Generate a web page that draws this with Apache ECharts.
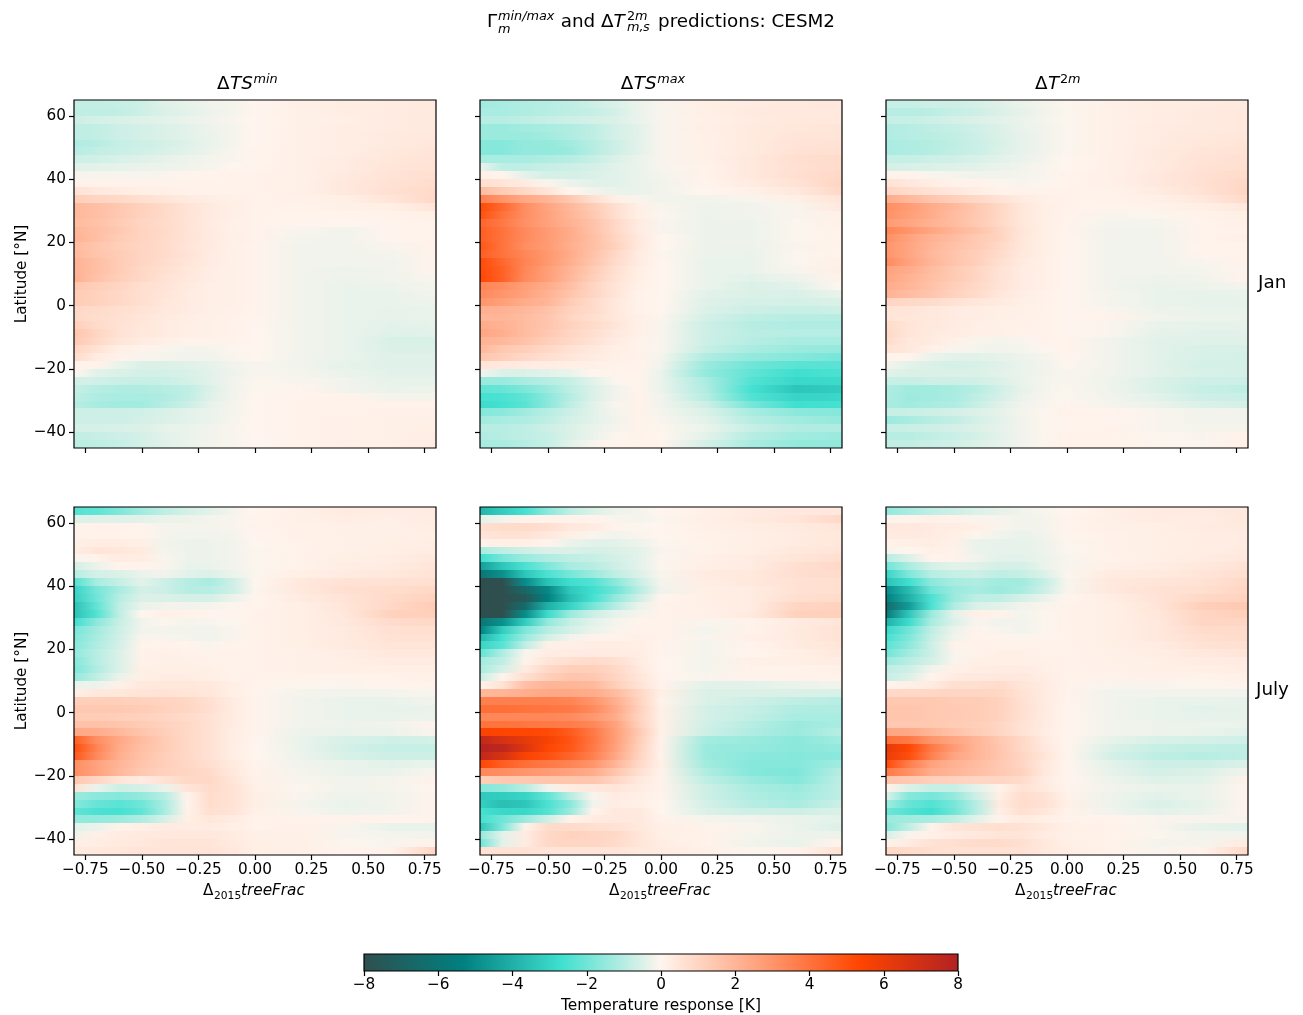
<!DOCTYPE html>
<html><head><meta charset="utf-8">
<style>html,body{margin:0;padding:0;background:#fff}#c{width:1303px;height:1015px}</style>
<script src="https://cdn.jsdelivr.net/npm/echarts@6/dist/echarts.min.js"></script>
</head><body><div id="c"></div>
<script>
const xNodes=[-0.8,-0.7,-0.6,-0.5,-0.4,-0.3,-0.2,-0.1,0,0.2,0.4,0.6,0.8];
const latitudes=[63.75,61.25,58.75,56.25,53.75,51.25,48.75,46.25,43.75,41.25,38.75,36.25,33.75,31.25,28.75,26.25,23.75,21.25,18.75,16.25,13.75,11.25,8.75,6.25,3.75,1.25,-1.25,-3.75,-6.25,-8.75,-11.25,-13.75,-16.25,-18.75,-21.25,-23.75,-26.25,-28.75,-31.25,-33.75,-36.25,-38.75,-41.25,-43.75];
const xTicks=[-0.75,-0.5,-0.25,0,0.25,0.5,0.75];
const yTicks=[-40,-20,0,20,40,60];
const cmapColors=['#2f4f4f','#008080','#40e0d0','#fff5ee','#ffa07a','#ff4500','#b22222'];
const janTSmin=[
[-.85,-.85,-.8,-.7,-.45,-.35,-.2,-.15,0,.15,.25,.3,.35],
[-.9,-.9,-.85,-.7,-.5,-.4,-.25,-.15,-.03,.15,.25,.3,.35],
[-.7,-.6,-.55,-.45,-.4,-.3,-.2,-.1,0,.15,.2,.3,.35],
[-.9,-.85,-.7,-.6,-.5,-.4,-.25,-.15,0,.15,.25,.3,.35],
[-.9,-.85,-.7,-.6,-.5,-.4,-.3,-.15,0,.15,.25,.35,.4],
[-1.1,-1,-.8,-.7,-.6,-.45,-.3,-.15,0,.15,.25,.35,.45],
[-1,-.85,-.75,-.65,-.55,-.4,-.25,-.1,.02,.15,.25,.4,.5],
[-.7,-.65,-.55,-.45,-.35,-.25,-.15,-.1,.03,.15,.3,.45,.55],
[-.45,-.4,-.35,-.3,-.25,-.2,-.12,-.03,.05,.15,.3,.5,.6],
[-.1,-.12,-.12,-.12,-.08,.03,.05,.08,.1,.15,.35,.55,.7],
[.1,.1,.08,.08,.08,.08,.08,.08,.08,.15,.4,.6,.75],
[.6,.4,.3,.2,.15,.1,.1,.1,.1,.15,.4,.65,.85],
[1.2,1,.9,.7,.5,.35,.25,.15,.1,.12,.2,.5,.9],
[1.9,1.7,1.4,1.1,.85,.55,.35,.2,.1,.1,.15,.2,.5],
[1.9,1.7,1.4,1.1,.85,.55,.35,.2,.08,.05,.05,.1,.15],
[1.8,1.6,1.3,1,.8,.55,.3,.15,.08,.03,-.03,.05,.1],
[2,1.7,1.4,1.05,.85,.55,.35,.15,.08,-.1,-.2,.03,.1],
[2.1,1.7,1.3,1.05,.8,.55,.35,.2,.08,-.15,-.2,.03,.1],
[1.8,1.5,1.2,1,.8,.5,.35,.15,.05,-.2,-.2,-.1,.1],
[1.9,1.5,1.3,1,.8,.55,.3,.15,.05,-.2,-.2,-.15,.1],
[2.1,1.7,1.3,1,.75,.5,.3,.15,.05,-.2,-.2,-.2,.05],
[2.1,1.7,1.3,.9,.7,.45,.25,.15,.05,-.2,-.25,-.2,.05],
[2.2,1.6,1.2,.9,.6,.4,.25,.15,.05,-.2,-.25,-.2,-.1],
[1.5,1.2,1,.7,.55,.35,.2,.15,.05,-.2,-.3,-.25,-.15],
[1.3,1.1,.9,.7,.5,.3,.2,.15,.05,-.2,-.3,-.3,-.2],
[1.3,1.1,.9,.7,.45,.3,.2,.15,.05,-.2,-.3,-.3,-.25],
[.9,.8,.7,.55,.4,.3,.2,.12,.05,-.2,-.3,-.35,-.3],
[.9,.75,.65,.5,.35,.25,.15,.1,.03,-.2,-.3,-.35,-.3],
[1.2,.8,.6,.45,.3,.2,.15,.1,.03,-.2,-.3,-.4,-.35],
[1.5,1,.6,.4,.3,.2,.15,.1,0,-.2,-.3,-.45,-.4],
[1.4,.9,.5,.3,.2,.1,.1,.1,0,-.2,-.3,-.55,-.55],
[1,.6,.2,.1,-.1,-.15,-.15,-.05,0,-.2,-.3,-.5,-.5],
[.8,.3,.1,-.1,-.15,-.2,-.2,-.1,-.02,-.2,-.3,-.45,-.45],
[.1,.1,-.3,-.5,-.5,-.45,-.35,-.2,-.1,-.2,-.35,-.45,-.45],
[0,-.4,-.5,-.6,-.6,-.55,-.4,-.25,-.1,-.15,-.3,-.4,-.4],
[-.6,-.65,-.75,-.8,-.75,-.6,-.4,-.2,-.05,-.1,-.2,-.35,-.35],
[-.8,-1,-1.1,-1.1,-1,-.9,-.5,-.2,-.05,.05,-.2,-.3,-.25],
[-.9,-1.1,-1.2,-1.2,-1.1,-.9,-.45,-.2,-.02,.05,.1,-.15,-.15],
[-1,-1.2,-1.3,-1.3,-1,-.75,-.35,-.15,0,.08,.1,.08,.1],
[-.7,-.7,-.7,-.65,-.55,-.4,-.3,-.15,-.02,.08,.1,.12,.12],
[-.7,-.7,-.7,-.6,-.5,-.4,-.3,-.12,-.02,.08,.12,.15,.15],
[-.6,-.6,-.55,-.5,-.35,-.3,-.2,-.1,0,.08,.12,.15,.2],
[-.85,-.8,-.7,-.6,-.4,-.3,-.2,-.1,-.02,.08,.12,.15,.25],
[-.95,-.9,-.8,-.6,-.45,-.3,-.2,-.1,-.03,.08,.15,.2,.3]];
const janTSmax=[
[-1.3,-1.2,-1.1,-1,-.9,-.7,-.5,-.3,-.1,.2,.3,.35,.4],
[-1.2,-1.2,-1.1,-1,-.9,-.8,-.6,-.3,-.1,.2,.35,.4,.4],
[-1,-1,-.9,-.8,-.7,-.6,-.5,-.3,-.1,.15,.3,.4,.4],
[-1.4,-1.4,-1.3,-1.2,-1.1,-.9,-.6,-.4,-.1,.2,.35,.45,.5],
[-1.4,-1.4,-1.4,-1.3,-1.1,-.9,-.6,-.4,-.1,.15,.35,.5,.5],
[-1.7,-1.7,-1.5,-1.5,-1.3,-1,-.7,-.4,-.1,.15,.35,.55,.6],
[-1.7,-1.7,-1.5,-1.5,-1.4,-1,-.7,-.4,-.1,.15,.35,.6,.65],
[-1.2,-1.2,-1.2,-1.1,-1,-.8,-.5,-.3,-.1,.15,.4,.7,.8],
[-.3,-.9,-.9,-.8,-.7,-.6,-.4,-.3,-.1,.1,.4,.65,.8],
[.15,.05,-.4,-.6,-.6,-.5,-.4,-.3,-.15,.1,.4,.7,.9],
[.7,.5,.3,-.1,-.3,-.4,-.4,-.3,-.2,.05,.3,.6,1],
[1.8,1.3,.9,.5,0,-.2,-.3,-.3,-.2,0,.15,.4,.9],
[3.6,3,2.4,2,1.4,.7,.2,-.1,-.2,-.2,-.1,.2,.5],
[5.2,4.3,3.2,2.5,1.9,1.3,.7,.2,-.1,-.25,-.2,-.1,.4],
[5,4,3.2,2.6,2,1.4,.7,.2,-.05,-.25,-.2,-.1,.15],
[4.4,3.8,3.1,2.6,2.1,1.6,.9,.3,-.1,-.25,-.25,-.05,.15],
[4.6,4,3.3,2.8,2.3,1.6,.9,.3,-.1,-.25,-.25,-.05,.1],
[4.6,4,3.3,2.8,2.3,1.7,1,.4,0,-.25,-.25,-.05,.1],
[4.8,4,3.2,2.8,2.2,1.7,1.1,.4,0,-.25,-.25,-.1,.1],
[4.6,4,3.4,2.9,2.3,1.6,.9,.3,-.05,-.25,-.3,-.05,.1],
[5.2,4.3,3.5,2.9,2.2,1.5,.8,.3,0,-.3,-.3,-.05,.15],
[5.2,4.5,3.4,2.7,2,1.3,.7,.2,0,-.3,-.3,-.1,.2],
[5.3,4.5,3.3,2.7,1.9,1.2,.6,.2,0,-.3,-.4,-.25,.1],
[3.5,3.2,2.7,2.3,1.7,1,.5,.15,0,-.3,-.5,-.4,0],
[3.3,3,2.6,2.1,1.5,1,.5,.1,0,-.4,-.5,-.55,-.3],
[3,2.7,2.3,2,1.3,.8,.4,.1,0,-.45,-.6,-.6,-.5],
[2.2,2.1,1.9,1.6,1.1,.8,.4,.1,0,-.5,-.7,-.8,-.7],
[2,2,1.8,1.5,1,.7,.4,.15,-.05,-.6,-.9,-1,-1],
[2.3,2.1,1.8,1.5,1.1,.8,.5,.15,-.1,-.7,-1,-1.1,-1.1],
[2.5,2.2,1.8,1.4,1,.7,.4,.15,-.1,-.7,-.95,-1,-1],
[2.1,1.9,1.6,1.2,.9,.6,.3,.1,-.1,-.7,-1,-1.2,-1.2],
[1.9,1.4,1.2,.9,.6,.4,.2,.1,-.1,-.8,-1.2,-1.4,-1.5],
[1.5,1.2,.9,.7,.5,.3,.15,.1,-.15,-1.1,-1.5,-1.7,-1.9],
[.5,.4,.3,.25,.2,.15,.1,.05,-.2,-1.4,-2,-2.3,-2.3],
[-.2,-.5,-.5,-.4,-.3,0,.1,.05,-.3,-1.5,-2.2,-2.7,-2.5],
[-1.4,-1.4,-1.2,-1,-.8,-.4,-.05,.05,-.3,-1.2,-2.4,-2.9,-2.8],
[-2.2,-2.1,-1.8,-1.4,-.9,-.5,-.2,.05,-.3,-1.1,-2.6,-3.4,-3.2],
[-2.6,-2.5,-2.2,-1.6,-1,-.5,-.2,.1,-.2,-1,-2.4,-3,-2.9],
[-2.8,-2.6,-2.3,-1.6,-.9,-.4,-.1,.1,-.2,-.7,-1.9,-2.7,-2.6],
[-1.7,-1.6,-1.3,-1,-.7,-.4,-.15,.1,-.15,-.5,-1.2,-1.6,-1.7],
[-1.3,-1.2,-1.1,-.9,-.6,-.4,-.2,.1,-.1,-.4,-1,-1.3,-1.5],
[-1,-1,-.9,-.7,-.5,-.3,-.15,.1,-.05,-.3,-.8,-1.1,-1.1],
[-1.1,-1,-.9,-.8,-.5,-.3,-.05,.1,0,-.4,-1,-1.3,-1.4],
[-1.2,-1.2,-1,-.8,-.4,-.1,.05,.1,.05,-.6,-1.2,-1.5,-1.5]];
const janT2m=[
[-.8,-.8,-.7,-.7,-.6,-.45,-.3,-.15,-.05,.15,.25,.3,.35],
[-1,-1,-.95,-.8,-.7,-.5,-.35,-.2,-.05,.15,.25,.35,.4],
[-.8,-.8,-.7,-.6,-.5,-.4,-.3,-.15,-.05,.15,.25,.35,.4],
[-1.1,-1,-.9,-.8,-.65,-.5,-.3,-.2,-.05,.15,.3,.35,.4],
[-1.1,-1,-.95,-.85,-.7,-.5,-.35,-.2,-.05,.15,.3,.4,.45],
[-1.2,-1.1,-1.05,-.9,-.75,-.55,-.35,-.2,-.05,.15,.3,.45,.5],
[-1.2,-1.1,-1.05,-.85,-.75,-.5,-.35,-.2,-.05,.15,.35,.5,.6],
[-.8,-.8,-.7,-.65,-.55,-.4,-.3,-.15,0,.15,.35,.55,.65],
[-.6,-.55,-.5,-.45,-.4,-.3,-.2,-.1,0,.15,.35,.6,.7],
[.1,.05,-.1,-.15,-.2,-.2,-.15,-.1,.05,.15,.4,.65,.8],
[.6,.4,.25,.1,.1,-.05,-.1,-.05,.05,.15,.4,.65,.95],
[1,.8,.6,.4,.25,.1,.1,.1,.1,.1,.3,.6,1],
[2.3,1.9,1.5,1.2,.9,.6,.3,.15,.1,.1,.15,.4,.85],
[3.2,2.8,2.3,1.9,1.4,.95,.45,.2,.1,.05,.1,.2,.4],
[3.1,2.7,2.3,1.8,1.4,.95,.45,.2,.08,-.1,-.05,.1,.2],
[2.8,2.5,2.1,1.8,1.35,.9,.45,.2,.05,-.15,-.15,.05,.15],
[3.5,3,2.5,2,1.6,1.05,.5,.2,.05,-.2,-.2,.05,.1],
[3.2,2.6,2.1,1.8,1.35,1.05,.45,.2,.03,-.2,-.2,.05,.15],
[3,2.5,2,1.6,1.35,.9,.45,.2,.03,-.2,-.2,.03,.1],
[3,2.5,1.9,1.55,1.2,.8,.4,.2,.03,-.2,-.2,.05,.1],
[3.3,2.6,2,1.55,1.2,.7,.35,.15,.03,-.2,-.2,-.1,.1],
[2.6,2.3,1.8,1.35,1,.6,.3,.15,.03,-.2,-.2,-.15,.05],
[2.5,2.1,1.7,1.35,1,.6,.3,.15,.03,-.2,-.25,-.2,.05],
[2.3,2,1.6,1.2,.9,.55,.3,.15,.03,-.2,-.3,-.25,-.15],
[2.1,1.8,1.5,1.1,.8,.45,.25,.1,.03,-.15,-.3,-.35,-.3],
[1,.9,.8,.6,.45,.35,.2,.1,.03,-.15,-.3,-.35,-.35],
[.5,.5,.4,.3,.25,.2,.15,.1,.03,-.1,-.25,-.3,-.3],
[.5,.45,.4,.3,.25,.2,.12,.1,.03,.08,-.2,-.25,-.3],
[.8,.5,.4,.3,.2,.15,.12,.1,.03,-.1,-.3,-.35,-.35],
[.9,.5,.35,.25,.2,.15,.1,.1,.03,-.1,-.35,-.4,-.4],
[.8,.4,.3,.15,-.1,-.15,-.1,.08,.05,-.2,-.4,-.45,-.45],
[.6,.4,.15,-.1,-.15,-.2,-.15,-.05,.05,-.2,-.4,-.55,-.55],
[.05,.05,-.3,-.4,-.4,-.35,-.25,-.15,.03,-.2,-.4,-.55,-.6],
[-.15,-.4,-.5,-.6,-.55,-.45,-.3,-.2,-.05,-.2,-.4,-.6,-.6],
[-.4,-.5,-.5,-.5,-.5,-.4,-.3,-.2,-.1,-.2,-.4,-.55,-.6],
[-.8,-.8,-.7,-.7,-.65,-.5,-.3,-.15,-.1,-.25,-.5,-.7,-.7],
[-1.1,-1.3,-1.3,-1.2,-1,-.65,-.35,-.15,-.05,-.25,-.5,-.8,-.9],
[-1.1,-1.35,-1.3,-1.2,-.9,-.6,-.3,-.1,-.05,-.2,-.4,-.7,-.75],
[-1.2,-1.3,-1.2,-1.1,-.8,-.45,-.2,-.1,.05,-.15,-.3,-.5,-.6],
[-.8,-.75,-.7,-.6,-.5,-.35,-.15,-.05,.1,.05,-.1,-.2,-.2],
[-1.4,-1.2,-1,-.85,-.6,-.4,-.2,-.05,.05,.02,-.1,-.2,-.2],
[-.8,-.75,-.7,-.6,-.5,-.35,-.2,-.05,.05,.08,-.1,-.15,-.15],
[-1,-1,-.85,-.75,-.6,-.4,-.2,-.05,.08,.1,-.05,-.1,.1],
[-.85,-.85,-.75,-.65,-.5,-.35,-.2,-.05,.1,.1,-.05,-.05,.15]];
const julTSmin=[
[-2.4,-2.2,-1.8,-1.3,-.9,-.6,-.4,-.15,0,.15,.3,.25,.3],
[-.5,-.45,-.45,-.4,-.3,-.25,-.15,-.1,.03,.15,.25,.2,.3],
[.1,.1,.1,.05,-.15,-.15,-.15,-.1,.05,.12,.15,.15,.25],
[.1,.1,.1,.05,-.15,-.2,-.2,-.15,.03,.12,.15,.15,.2],
[.2,.25,.25,.2,-.2,-.25,-.25,-.2,-.02,.1,.15,.2,.25],
[.25,.5,.45,.35,-.15,-.25,-.25,-.2,-.05,.1,.15,.2,.3],
[-.1,.1,.3,.25,-.1,-.25,-.25,-.2,-.05,.1,.2,.25,.4],
[-.6,-.3,.05,.1,-.1,-.3,-.3,-.2,-.05,.1,.25,.3,.5],
[-1,-.6,-.5,-.3,-.2,-.4,-.5,-.3,-.05,.2,.3,.4,.55],
[-2.4,-1.2,-.8,-.4,-.7,-1,-1.2,-.7,-.02,.4,.6,.6,.7],
[-3,-1.9,-1.2,-.6,-.7,-1,-1,-.7,-.05,.4,.7,.75,.9],
[-3.1,-2,-1,-.5,-.5,-.6,-.6,-.3,.02,.3,.55,.85,1.1],
[-3.5,-2.2,-.9,-.3,-.2,-.2,-.15,-.05,.05,.2,.5,.9,1.3],
[-3.5,-2.4,-.9,0,.15,.1,.03,.03,.1,.2,.45,1.1,1.2],
[-2.7,-1.6,-.8,-.2,-.05,-.15,-.1,-.05,.1,.2,.4,.8,.9],
[-1.9,-1.3,-.7,-.2,-.15,-.2,-.2,-.1,.1,.2,.35,.65,.7],
[-1.8,-1.2,-.65,-.1,-.1,-.15,-.2,-.1,.1,.2,.35,.6,.6],
[-1.7,-1.1,-.6,.05,.1,.05,-.1,.05,.1,.2,.35,.5,.5],
[-1.5,-1,-.5,.08,.15,.1,.1,.1,.1,.15,.25,.4,.4],
[-1.7,-1,-.5,.1,.15,.15,.1,.1,.08,.15,.2,.3,.3],
[-1.8,-1.1,-.5,.15,.2,.2,.15,.1,.08,.15,.2,.2,.2],
[-1.5,-.9,-.3,.2,.25,.25,.2,.1,.08,.1,.1,.1,.15],
[-.3,-.25,.15,.4,.45,.45,.4,.2,.05,-.05,-.08,.02,.1],
[.15,.4,.45,.5,.55,.5,.45,.2,.05,-.15,-.2,-.15,-.1],
[1.2,1.2,1.2,1.1,1.05,.95,.65,.3,.05,-.2,-.3,-.3,-.2],
[1.4,1.4,1.4,1.3,1.1,1,.7,.3,.05,-.2,-.3,-.35,-.3],
[1.3,1.3,1.2,1.1,1,.8,.6,.3,.05,-.2,-.3,-.3,-.25],
[1.6,1.6,1.5,1.3,1.1,.9,.6,.3,.05,-.2,-.25,-.2,.05],
[2.4,2.3,1.9,1.5,1.2,.9,.6,.25,.05,-.25,-.3,-.25,-.1],
[4.6,3.2,2.4,1.8,1.3,.9,.6,.25,.02,-.3,-.55,-.65,-.6],
[5.1,3.5,2.3,1.7,1.3,.9,.6,.25,0,-.3,-.6,-.8,-.8],
[4.8,3.3,2.2,1.6,1.2,.9,.6,.25,0,-.25,-.55,-.7,-.7],
[3.2,2.6,2,1.5,1.2,.95,.7,.35,.05,-.2,-.3,-.4,-.3],
[3.2,2.6,1.9,1.4,1.1,1,.8,.4,.1,-.15,-.3,-.3,-.1],
[1.4,1,.5,.3,.6,.9,.9,.5,.12,-.1,-.2,-.15,.1],
[.6,-.3,-.7,-.6,-.3,.5,.8,.6,.15,-.05,-.2,-.15,.03],
[-1.4,-1.6,-1.7,-1.5,-1,.1,.75,.6,.2,-.1,-.25,-.2,.05],
[-1.7,-2.1,-2.3,-2,-1.2,.05,.75,.6,.2,-.15,-.3,-.2,.05],
[-2.2,-2.5,-2.6,-2.2,-1.2,.1,.7,.55,.15,-.1,-.25,-.2,.05],
[-1.5,-1.5,-1.4,-1.1,-.6,.2,.45,.3,.08,.08,.1,.05,.1],
[-.4,-.3,.1,.2,.3,.3,.3,.2,.1,.12,-.1,-.3,-.3],
[-.25,.15,.3,.35,.4,.4,.4,.3,.15,.15,-.1,-.15,-.2],
[.2,.25,.35,.4,.5,.5,.5,.35,.2,.15,-.05,-.1,.1],
[.3,.4,.45,.5,.5,.5,.55,.4,.2,.15,.05,.1,1]];
const julTSmax=[
[-3.9,-3.2,-2.6,-1.6,-.9,-.5,-.25,-.15,0,.15,.3,.4,.4],
[-.4,-.2,.1,.1,.1,.05,-.1,-.15,-.05,.2,.35,.5,.9],
[.7,.8,.8,.7,.4,.3,.05,-.05,0,.15,.25,.35,.5],
[.5,.6,.6,.4,.2,-.1,-.2,-.1,0,.12,.2,.3,.4],
[.1,.2,.2,.05,-.3,-.4,-.4,-.25,-.05,.1,.2,.3,.45],
[-1.2,-.9,-.7,-.5,-.5,-.6,-.5,-.4,-.1,.1,.2,.4,.5],
[-2.7,-1.9,-1.4,-1.1,-.9,-.8,-.6,-.4,-.05,.15,.3,.5,.7],
[-4.5,-3.4,-2.5,-1.8,-1.2,-1,-.7,-.4,-.05,.2,.3,.7,.9],
[-6,-4.9,-3.4,-2.5,-1.9,-1.4,-.9,-.5,-.1,.3,.4,.7,.8],
[-8,-8,-5,-3.5,-2.7,-2.4,-1.6,-.8,-.15,.25,.4,.6,.7],
[-8,-8,-6.7,-5.1,-3.3,-2.7,-2,-1,-.2,.2,.3,.6,.7],
[-8,-8,-7.5,-5.3,-3.6,-2.6,-1.5,-.7,.02,.2,.3,.7,.8],
[-8,-8,-6.5,-4,-3,-1.9,-1,-.3,.1,.15,.3,1,1.1],
[-8,-8,-5,-2.8,-1.4,-.7,-.35,-.15,.1,.15,.35,1.1,1.15],
[-6,-4.9,-3.2,-1.5,-.8,-.4,-.15,.05,.1,-.1,.1,.3,.5],
[-5.3,-3.2,-1.8,-1,-.6,-.3,-.1,.1,.1,-.15,.1,.35,.6],
[-3.9,-2.6,-1.4,-.6,-.2,.1,.1,.15,.08,-.1,.15,.35,.6],
[-3,-2.3,-.9,.15,.2,.25,.25,.2,.05,-.15,.05,.3,.5],
[-2.2,-1.1,-.1,.25,.3,.3,.3,.25,.05,-.15,.03,.2,.4],
[-1.3,-.9,.1,.5,.7,.8,.7,.3,0,-.15,.15,.2,.3],
[-1.2,-.6,.3,.9,1.2,1.2,.9,.4,0,-.15,.1,.1,.15],
[-.8,.05,.7,1.2,1.5,1.4,1,.5,.05,-.1,.1,.1,.1],
[.1,.6,1.7,2,2,1.9,1.2,.6,.08,-.4,-.4,-.3,-.2],
[1.9,2,2.2,2.4,2.4,2.3,1.8,1,.2,-.5,-.5,-.5,-.55],
[3.6,3.6,3.6,3.6,3.5,3,2.2,1.1,.1,-.5,-.7,-.9,-1],
[4.1,4.1,4,3.9,3.8,3.3,2.4,1.2,.15,-.6,-.8,-1.1,-1.1],
[3.4,3.4,3.4,3.4,3.3,2.9,2.3,1.1,.15,-.6,-.85,-1.2,-1.2],
[4,4,3.9,3.8,3.7,3.4,2.6,1.2,.15,-.65,-1,-1.4,-1.2],
[5.5,5.4,5.3,5.2,4.7,3.8,2.7,1.4,.15,-.7,-1.1,-1.4,-1],
[7.5,6.8,6.2,5.6,4.9,3.9,2.7,1.3,.1,-1.3,-1.4,-1.6,-1.3],
[7.9,7.6,6.5,5.3,4.8,3.8,2.6,1.2,.1,-1.4,-1.5,-1.6,-1.5],
[7.5,6.8,5.5,5,4.4,3.6,2.4,1.1,.1,-1.4,-1.6,-1.7,-1.6],
[5.3,4.6,4.1,3.8,3.5,3,2,.9,.15,-1.3,-1.7,-1.7,-1.3],
[3.4,3.2,3,2.8,2.6,2.3,1.5,.7,.1,-1.1,-1.7,-1.8,-1],
[1.2,1.4,1.4,1.5,1.5,1.5,1,.4,.1,-.9,-1.4,-1.7,-.9],
[-1.7,-1.5,-1,-.2,.3,.4,.5,.3,.1,-.7,-1.2,-1.4,-.9],
[-3.3,-3.2,-3,-2.2,-1,-.1,.3,.2,.05,-.7,-1.1,-1.3,-.9],
[-3.1,-3.6,-3.4,-2.5,-1.6,-.2,.25,.2,0,-.6,-1,-1.2,-.7],
[-2.6,-2.9,-2.9,-2.4,-1.4,.05,.4,.4,0,-.5,-.7,-.7,-.5],
[-2.6,-2,-1.4,-.7,.1,.3,.4,.4,.1,-.15,-.2,-.3,-.4],
[-3.4,-1.8,.1,.8,.8,.7,.6,.4,.2,.1,-.1,-.3,-.5],
[-1.5,-.4,.3,.9,1.1,1,.9,.5,.2,.1,-.15,-.25,-.25],
[-2,-.4,.3,.9,1,1,.8,.5,.25,.1,-.2,-.3,.05],
[.6,.6,.6,.5,.5,.5,.5,.4,.3,.15,-.05,.1,.6]];
const julT2m=[
[-1.5,-1.2,-.9,-.7,-.5,-.35,-.2,-.1,0,.2,.3,.3,.4],
[-.1,.05,.15,.1,-.1,-.1,-.2,-.15,.05,.2,.3,.25,.4],
[.4,.4,.3,.25,.2,-.1,-.2,-.15,.05,.15,.2,.3,.35],
[.3,.35,.3,.2,-.05,-.2,-.3,-.2,.03,.12,.2,.25,.3],
[.1,.2,.25,.15,-.3,-.35,-.35,-.25,-.05,.12,.2,.25,.3],
[-.15,0,.15,.1,-.3,-.35,-.35,-.25,-.05,.12,.2,.25,.35],
[-1,-.5,.05,.1,-.2,-.4,-.4,-.3,-.1,.1,.2,.3,.4],
[-2,-1.2,-.6,-.4,-.45,-.6,-.6,-.3,-.1,.15,.25,.4,.6],
[-3,-1.8,-1,-.8,-.7,-.9,-.8,-.5,-.05,.3,.35,.5,.7],
[-3.5,-2.7,-1.6,-1.2,-1.1,-1.3,-1.3,-.8,-.1,.4,.5,.6,.9],
[-5,-3.7,-2,-1.4,-1.2,-1.4,-1.2,-.7,-.1,.4,.6,.7,1],
[-5.4,-4,-2.5,-1.4,-.9,-.9,-.6,-.3,.02,.25,.55,.9,1.1],
[-6.5,-4.6,-2.5,-1.1,-.5,-.4,-.2,-.1,.1,.2,.5,1.2,1.4],
[-5.8,-3.4,-1.4,-.4,.15,.1,-.15,-.05,.1,.2,.45,1,1.2],
[-4,-2.8,-1.2,-.5,-.1,-.2,-.2,-.05,.1,.2,.4,1,1],
[-2.9,-2,-.9,-.3,.05,-.1,-.2,-.05,.1,.2,.4,.8,.8],
[-2.6,-1.8,-.8,-.2,.05,.05,-.05,.05,.1,.2,.4,.7,.8],
[-2.3,-1.6,-.7,.1,.1,.1,.1,.1,.1,.2,.3,.6,.7],
[-2,-1.3,-.7,-.1,.1,.15,.15,.1,.08,.15,.25,.4,.5],
[-1.4,-1,-.6,-.1,.2,.2,.2,.15,.08,.15,.2,.3,.3],
[-.9,-.7,-.2,.15,.25,.3,.3,.2,.08,.12,.2,.2,.25],
[-.8,-.5,.05,.3,.4,.4,.4,.25,.08,.1,.12,.1,.15],
[.05,.2,.3,.7,.7,.8,.5,.3,.08,-.1,-.1,-.05,.05],
[.9,.9,.95,1,1,.95,.6,.3,.08,-.2,-.2,-.2,-.2],
[1.4,1.4,1.4,1.3,1.3,1.1,.65,.3,.05,-.2,-.3,-.3,-.35],
[1.5,1.5,1.4,1.35,1.3,1.1,.7,.35,.03,-.2,-.3,-.4,-.35],
[1.5,1.5,1.4,1.35,1.3,1.1,.65,.3,.03,-.2,-.3,-.35,-.35],
[1.4,1.4,1.4,1.3,1.2,1,.6,.3,.03,-.2,-.25,-.25,-.3],
[2.5,2.4,2,1.6,1.3,1,.6,.25,.03,-.2,-.25,-.3,-.4],
[4.1,3.8,3,2.5,2,1.4,.9,.35,.03,-.35,-.55,-.6,-.65],
[6.2,5.3,3.8,2.8,2,1.5,.9,.4,.03,-.5,-.8,-.85,-.9],
[6,5.1,3.6,2.5,2,1.5,1,.5,.03,-.6,-.9,-1,-.9],
[5.2,3.7,2.6,2.1,1.8,1.4,1,.4,.03,-.4,-.7,-.7,-.5],
[3.8,3.1,2.3,2,1.7,1.4,1.1,.4,.03,-.35,-.6,-.5,-.2],
[1.5,1.4,1.2,1.1,1,1,.8,.3,.03,-.25,-.45,-.4,.1],
[.1,-.5,-.8,-.8,-.4,.1,.6,.35,.05,-.2,-.3,-.3,.05],
[-.5,-1.7,-1.9,-1.5,-.7,.2,.75,.6,.1,-.25,-.4,-.3,.05],
[-1.3,-2.1,-2.4,-1.9,-1,.3,.75,.65,.15,-.25,-.5,-.35,.05],
[-2,-2.4,-2.7,-2,-1,.2,.7,.45,.1,-.2,-.4,-.3,.05],
[-1.4,-1.3,-1.2,-.9,-.4,.1,.3,.2,.1,.05,-.1,-.1,-.1],
[-1.7,-.9,.1,.5,.6,.7,.6,.4,.15,.1,-.1,-.35,-.4],
[-.6,-.1,.15,.3,.4,.5,.5,.3,.15,.1,-.05,-.2,-.2],
[.1,.3,.6,.7,.8,.8,.7,.4,.2,.1,-.15,-.15,.3],
[.9,.8,.7,.6,.6,.6,.6,.4,.25,.1,-.1,.1,.9]];

const panels=[janTSmin,janTSmax,janT2m,julTSmin,julTSmax,julT2m];
const rgb=h=>[1,3,5].map(i=>parseInt(h.slice(i,i+2),16));
const anchors=cmapColors.map(rgb);
function colorOf(v){
  const t=Math.max(0,Math.min(1,(v+8)/16))*(anchors.length-1);
  const i=Math.min(anchors.length-2,Math.floor(t)),f=t-i;
  const c=anchors[i].map((a,k)=>Math.round(a+(anchors[i+1][k]-a)*f));
  return 'rgb('+c.join(',')+')';
}
const X0=xNodes[0],X1=xNodes[xNodes.length-1];
function renderRow(params,api){
  const lat=api.value(0);
  const a=api.coord([X0,lat+1.25]),b=api.coord([X1,lat-1.25]);
  const stops=xNodes.map((x,k)=>({offset:(x-X0)/(X1-X0),color:colorOf(api.value(k+1))}));
  const top=Math.round(a[1]),bot=Math.round(b[1]);
  return {type:'rect',shape:{x:a[0],y:top,width:b[0]-a[0],height:bot-top},
    style:{fill:new echarts.graphic.LinearGradient(0,0,1,0,stops)},silent:true};
}
const font='"DejaVu Sans"';
const S=18.33,s=12.83,A=15.28,a=10.7;
const gx=[74,480,886],gy=[100,507],gw=362,gh=348;
const grids=[],xAxes=[],yAxes=[],series=[];
const minus=s=>String(s).replace('-','\u2212');
const tickStyle={color:'#000',width:1.2};
panels.forEach((p,i)=>{
  const col=i%3,row=Math.floor(i/3);
  grids.push({left:gx[col],top:gy[row],width:gw,height:gh,show:true,backgroundColor:'transparent',borderColor:'#000',borderWidth:1.2,z:10});
  xAxes.push({type:'value',gridIndex:i,min:X0,max:X1,splitLine:{show:false},axisLine:{show:false,onZero:false},z:11,
    axisTick:{show:true,customValues:xTicks,length:5,lineStyle:tickStyle},
    axisLabel:{show:row===1,customValues:xTicks,margin:8,color:'#000',fontFamily:font,fontSize:A,formatter:v=>minus(v.toFixed(2))}});
  yAxes.push({type:'value',gridIndex:i,min:-45,max:65,splitLine:{show:false},axisLine:{show:false,onZero:false},z:11,
    axisTick:{show:true,customValues:yTicks,length:5,lineStyle:tickStyle},
    axisLabel:{show:col===0,customValues:yTicks,margin:8,color:'#000',fontFamily:font,fontSize:A,lineHeight:17,padding:[2,0,0,0],formatter:v=>minus(v)},
    name:col===0?'Latitude [\u00b0N]':'',nameLocation:'middle',nameGap:44,nameRotate:90,
    nameTextStyle:{color:'#000',fontFamily:font,fontSize:A}});
  series.push({type:'custom',xAxisIndex:i,yAxisIndex:i,coordinateSystem:'cartesian2d',renderItem:renderRow,silent:true,animation:false,clip:false,z:2,
    encode:{y:0,x:1},data:p.map((r,j)=>[latitudes[j]].concat(r))});
});
grids.push({left:364,top:954,width:594,height:17,show:true,backgroundColor:'transparent',borderColor:'#000',borderWidth:1.2,z:10});
xAxes.push({type:'value',gridIndex:6,min:-8,max:8,interval:2,splitLine:{show:false},axisLine:{show:false,onZero:false},z:11,
  axisTick:{show:true,length:5,lineStyle:tickStyle},
  axisLabel:{show:true,margin:7,color:'#000',fontFamily:font,fontSize:A,formatter:v=>minus(v),showMinLabel:true,showMaxLabel:true},
  name:'Temperature response [K]',nameLocation:'middle',nameGap:27,nameTextStyle:{color:'#000',fontFamily:font,fontSize:15.45}});
yAxes.push({type:'value',gridIndex:6,min:0,max:1,show:false});
series.push({type:'custom',xAxisIndex:6,yAxisIndex:6,coordinateSystem:'cartesian2d',silent:true,animation:false,clip:false,z:2,
  encode:{x:0,y:1},data:[[-8,0,8,1]],
  renderItem(params,api){
    const p=api.coord([api.value(0),api.value(3)]),q=api.coord([api.value(2),api.value(1)]);
    const stops=cmapColors.map((c,k)=>({offset:k/(cmapColors.length-1),color:c}));
    return {type:'rect',shape:{x:p[0],y:p[1],width:q[0]-p[0],height:q[1]-p[1]},style:{fill:new echarts.graphic.LinearGradient(0,0,1,0,stops)},silent:true};
  }});
const T=(text,x,y,size,italic)=>({type:'text',x:x,y:y-0.79*size,silent:true,z:50,style:{text:text,fill:'#000',align:'left',
  font:(italic?'italic ':'')+size+'px '+font}});
const texts=[
 T('\u0393',487,28,S),T('min/max',498,20,s,true),T('m',498,33,s,true),
 T('and',560.7,28,S),T('\u0394',601,28,S),T('T',613.5,28,S,true),
 T('2',627,20,s),T('m',635,20,s,true),T('m,',627,31.5,s,true),T('s',643,31.5,s,true),
 T('predictions: CESM2',658,28,S),
 T('Jan',1258,288.5,S),T('July',1256,695.5,S)
];
[[217,'TS','min'],[620.7,'TS','max']].forEach(d=>{
  texts.push(T('\u0394',d[0],90,S));
  texts.push(T(d[1],d[0]+13,90,S,true));
  texts.push(T(d[2],d[0]+36.5,83,s,true));
});
texts.push(T('\u0394',1035,90,S),T('T',1048,90,S,true),T('2',1060,83,s),T('m',1068,83,s,true));
[203,609,1015].forEach(x=>{
  texts.push(T('\u0394',x,896,A));
  texts.push(T('2015',x+11,899,a));
  texts.push(T('treeFrac',x+38,896,A,true));
});
const chart=echarts.init(document.getElementById('c'),null,{renderer:'canvas'});
chart.setOption({animation:false,backgroundColor:'#fff',grid:grids,xAxis:xAxes,yAxis:yAxes,series:series,graphic:{elements:texts}});
</script></body></html>
